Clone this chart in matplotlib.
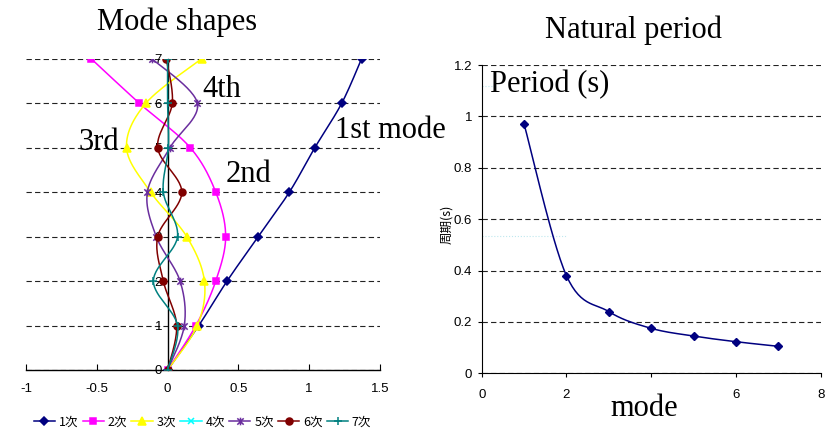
import numpy as np
import matplotlib
matplotlib.use("Agg")
import matplotlib.pyplot as plt
from matplotlib.path import Path

# ---- data ----
levels = [0, 1, 2, 3, 4, 5, 6, 7]
mode1 = [0, 0.22, 0.42, 0.64, 0.86, 1.04, 1.23, 1.37]
mode2 = [0, 0.20, 0.34, 0.41, 0.34, 0.16, -0.20, -0.54]
mode3 = [0, 0.21, 0.26, 0.135, -0.12, -0.29, -0.153, 0.24]
mode4 = []
mode5 = [0, 0.118, 0.088, -0.08, -0.143, 0.017, 0.21, -0.11]
mode6 = [0, 0.064, -0.03, -0.07, 0.10, -0.07, 0.033, -0.01]
mode7 = [0, 0.07, -0.10, 0.07, -0.03, 0.005, 0.0, 0.0]
mode_labels = ["1次", "2次", "3次", "4次", "5次", "6次", "7次"]

mode_no = [1, 2, 3, 4, 5, 6, 7]
periods = [0.97, 0.38, 0.24, 0.175, 0.145, 0.123, 0.105]
period_xticks = [0, 2, 4, 6, 8]
period_xticklabels = ["0", "2", "", "6", "8"]

W, H = 834, 428


def fx(x):
    return x / W


def fy(y):
    return 1 - y / H


def smooth(xs, ys, n=30):
    """Smoothed curve through the points (cubic Bezier, Catmull-Rom tangents)."""
    P = np.column_stack([np.asarray(xs, float), np.asarray(ys, float)])
    if len(P) < 3:
        return P[:, 0], P[:, 1]
    ext = np.vstack([P[0], P, P[-1]])
    t = np.linspace(0, 1, n)[:, None]
    out = []
    for i in range(len(P) - 1):
        p0, p1, p2, p3 = ext[i], ext[i + 1], ext[i + 2], ext[i + 3]
        c1 = p1 + (p2 - p0) / 6.0
        c2 = p2 - (p3 - p1) / 6.0
        seg = ((1 - t) ** 3) * p1 + 3 * ((1 - t) ** 2) * t * c1 + 3 * (1 - t) * t ** 2 * c2 + t ** 3 * p2
        out.append(seg if i == 0 else seg[1:])
    out = np.vstack(out)
    return out[:, 0], out[:, 1]


# star marker: diagonal cross plus vertical bar
star = Path([(-1, -1), (1, 1), (-1, 1), (1, -1), (0, -1.2), (0, 1.2)],
            [Path.MOVETO, Path.LINETO, Path.MOVETO, Path.LINETO, Path.MOVETO, Path.LINETO])

series = [
    (mode1, "#000080", "D", 4.0),
    (mode2, "#FF00FF", "s", 5.0),
    (mode3, "#FFFF00", "^", 5.5),
    (mode4, "#00FFFF", "x", 5.0),
    (mode5, "#6A2E9E", star, 5.5),
    (mode6, "#800000", "o", 5.0),
    (mode7, "#008080", "+", 6.0),
]

tick_font = ["Liberation Sans Narrow", "Liberation Sans", "DejaVu Sans"]
serif = "Liberation Serif"
dash = (0, (4.8, 2.9))

fig = plt.figure(figsize=(W / 100, H / 100), dpi=100)

# ---- mode shapes ----
ax = fig.add_axes([fx(26), fy(370), fx(380) - fx(26), fy(58.7) - fy(370)])
ax.set_xlim(-1, 1.5)
ax.set_ylim(0, 7)
handles = []
for i, (vals, col, mk, ms) in enumerate(series):
    lv = levels[:len(vals)]
    sx, sy = smooth(vals, lv) if len(vals) else ([], [])
    ax.plot(sx, sy, color=col, lw=1.1, zorder=3 + i)
    ax.plot(vals, lv, ls="none", marker=mk, ms=ms, color=col, mfc=col, mec=col, mew=1.1, zorder=3 + i)
    h, = ax.plot([], [], color=col, lw=1.1, marker=mk, ms=ms, mfc=col, mec=col, mew=1.1)
    handles.append(h)

for s in ["top", "right"]:
    ax.spines[s].set_visible(False)
ax.spines["left"].set_position(("data", 0))
ax.spines["left"].set_linewidth(1.0)
ax.spines["bottom"].set_linewidth(1.0)
ax.set_xticks([-1, -0.5, 0, 0.5, 1, 1.5])
ax.set_xticklabels(["-1", "-0.5", "0", "0.5", "1", "1.5"])
ax.set_yticks(levels)
ax.tick_params(axis="x", direction="in", length=4, pad=9, labelsize=9.5)
ax.tick_params(axis="y", length=0, pad=4, labelsize=9.5)
for lab in ax.get_xticklabels() + ax.get_yticklabels():
    lab.set_family(tick_font)
ax.yaxis.grid(True, color="#222222", lw=0.8, linestyle=dash)
ax.set_axisbelow(True)

# ---- natural period ----
ax2 = fig.add_axes([fx(481.7), fy(373.3), fx(820.7) - fx(481.7), fy(65) - fy(373.3)])
ax2.set_xlim(0, 8)
ax2.set_ylim(0, 1.2)
px, py = smooth(mode_no, periods)
ax2.plot(px, py, color="#000080", lw=1.1, zorder=3)
ax2.plot(mode_no, periods, ls="none", marker="D", ms=4, color="#000080", zorder=4)
for s in ["top", "right"]:
    ax2.spines[s].set_visible(False)
ax2.set_xticks(period_xticks)
ax2.set_xticklabels(period_xticklabels)
ax2.set_yticks([0, 0.2, 0.4, 0.6, 0.8, 1.0, 1.2])
ax2.set_yticklabels(["0", "0.2", "0.4", "0.6", "0.8", "1", "1.2"])
ax2.tick_params(axis="x", direction="out", length=3, pad=8, labelsize=9.5)
ax2.tick_params(axis="y", direction="out", length=3, pad=4, labelsize=9.5)
for lab in ax2.get_xticklabels() + ax2.get_yticklabels():
    lab.set_family(tick_font)
ax2.yaxis.grid(True, color="#222222", lw=0.8, linestyle=dash)
ax2.set_axisbelow(True)
ax2.axhline(1.12, xmin=0.0, xmax=0.04, color="#BFE8EE", lw=0.8, ls=":", zorder=1)
ax2.axhline(0.535, xmin=0.0, xmax=0.25, color="#BFE8EE", lw=0.8, ls=":", zorder=1)

fig.text(fx(447), fy(224), "周期(s)", rotation=90, ha="center", va="center",
         fontsize=9, family=["Noto Sans CJK JP", "DejaVu Sans"])

# ---- titles and annotations ----
fig.text(fx(97), fy(30), "Mode shapes", fontsize=22, family=serif, va="baseline")
fig.text(fx(545), fy(38), "Natural period", fontsize=22, family=serif, va="baseline")
fig.text(fx(490), fy(92), "Period (s)", fontsize=22, family=serif, va="baseline")
fig.text(fx(610), fy(416), "mode", fontsize=22, family=serif, va="baseline")
fig.text(fx(202), fy(97), "4th", fontsize=22, family=serif, va="baseline")
fig.text(fx(335), fy(138), "1st mode", fontsize=22, family=serif, va="baseline")
fig.text(fx(78), fy(150), "3rd", fontsize=22, family=serif, va="baseline")
fig.text(fx(226), fy(182), "2nd", fontsize=22, family=serif, va="baseline")

fig.legend(handles, mode_labels, loc="center", bbox_to_anchor=(fx(202.5), fy(422)),
           ncol=7, frameon=False, handlelength=1.7, handletextpad=0.3, columnspacing=0.35,
           prop={"family": ["Noto Sans CJK JP", "DejaVu Sans"], "size": 9})

fig.savefig("out.png", dpi=100)
